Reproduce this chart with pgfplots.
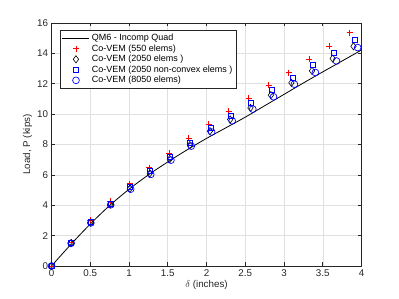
\documentclass[border=0pt]{standalone}
\usepackage{pgfplots}
\pgfplotsset{compat=1.18}
\usepackage{fontspec}
\setmainfont{Liberation Sans}
\definecolor{axgray}{gray}{0.15}
\definecolor{gridgray}{gray}{0.88}
\begin{document}
\begin{tikzpicture}
\begin{axis}[
  scale only axis, width=310pt, height=243pt,
  xmin=0, xmax=4, ymin=0, ymax=16,
  xtick={0,0.5,...,4}, ytick={0,2,...,16},
  xticklabels={0,0.5,1,1.5,2,2.5,3,3.5,4},
  /pgf/number format/assume math mode=true,
  tick align=inside, major tick length=3.5pt,
  grid=major, major grid style={gridgray, line width=0.5pt},
  axis line style={axgray, line width=0.6pt},
  tick style={axgray, line width=0.6pt},
  ticklabel style={font=\fontsize{9.8}{11}\selectfont, text=axgray},
  xlabel={$\delta$ (inches)}, ylabel={Load, P (kips)},
  label style={font=\fontsize{9.8}{11}\selectfont, text=axgray},
  xlabel style={yshift=3pt},
  ylabel style={yshift=-2pt},
  legend cell align=left,
  legend style={at={(0.027,0.971)}, anchor=north west, draw=axgray, fill=white,
    font=\fontsize{9}{10.5}\selectfont, row sep=-1.5pt, inner xsep=2pt, inner ysep=2pt},
  legend image code/.code={\draw[mark repeat=2,mark phase=2,#1] plot coordinates {(0pt,0pt) (13.5pt,0pt) (27pt,0pt)};},
]
\addplot[black, line width=0.8pt, smooth, mark=none] coordinates {
(0,0) (0.25,1.42) (0.5,2.76) (0.75,3.98) (1.0,5.05) (1.25,6.0) (1.5,6.85)
(1.75,7.65) (2.0,8.4) (2.25,9.1) (2.5,9.8) (2.75,10.55) (3.0,11.3)
(3.25,12.05) (3.5,12.78) (3.75,13.5) (4.0,14.22)};
\addlegendentry{QM6 - Incomp Quad}
\addplot[only marks, red, mark=+, mark size=3pt, line width=0.75pt] coordinates {
(0,0) (0.2504,1.55) (0.5017,3.0) (0.7538,4.25) (1.0068,5.41) (1.2606,6.47)
(1.5153,7.41) (1.7708,8.4) (2.0272,9.32) (2.2844,10.2) (2.5425,11.03)
(2.8014,11.91) (3.0612,12.74) (3.3218,13.6) (3.5833,14.49) (3.8456,15.35)};
\addlegendentry{Co-VEM (550 elems)}
\addplot[only marks, black, mark=diamond, mark size=3.6pt, line width=0.6pt] coordinates {
(0,0) (0.2514,1.5) (0.5039,2.85) (0.7577,4.05) (1.0126,5.1) (1.2688,6.1)
(1.5261,7.04) (1.7847,7.96) (2.0444,8.88) (2.3054,9.65) (2.5675,10.41)
(2.8309,11.25) (3.0954,12.06) (3.3612,12.85) (3.6281,13.66) (3.8963,14.47)};
\addlegendentry{Co-VEM (2050 elems )}
\addplot[only marks, blue, mark=square, mark size=2.5pt, line width=0.6pt] coordinates {
(0,0) (0.2519,1.53) (0.5051,2.9) (0.7596,4.12) (1.0154,5.2) (1.2725,6.27)
(1.5309,7.19) (1.7906,8.14) (2.0516,9.1) (2.3139,9.89) (2.5775,10.74)
(2.8424,11.58) (3.1086,12.41) (3.3761,13.22) (3.6449,14.05) (3.915,14.91)};
\addlegendentry{Co-VEM (2050 non-convex elems )}
\addplot[only marks, blue, mark=o, mark size=3.4pt, line width=0.7pt] coordinates {
(0,0) (0.2532,1.5) (0.5079,2.84) (0.764,4.03) (1.0216,5.06) (1.2806,6.03)
(1.5411,6.97) (1.803,7.89) (2.0664,8.82) (2.3312,9.56) (2.5975,10.33)
(2.8652,11.14) (3.1344,11.97) (3.405,12.74) (3.6771,13.5) (3.9506,14.38)};
\addlegendentry{Co-VEM (8050 elems)}
\end{axis}
\path (current axis.south west) ++(-51.5pt,-33pt) coordinate (bbA);
\path (current axis.north east) ++(37.5pt,23pt) coordinate (bbB);
\useasboundingbox (bbA) rectangle (bbB);
\end{tikzpicture}
\end{document}
